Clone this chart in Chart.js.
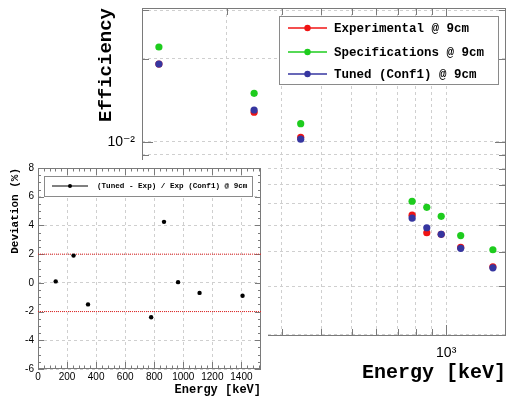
<!DOCTYPE html>
<html>
<head>
<meta charset="utf-8">
<script src="https://cdn.jsdelivr.net/npm/chart.js@4.4.1/dist/chart.umd.min.js"></script>
<style>
  html, body { margin: 0; padding: 0; background: #fff; }
  #wrap { position: relative; width: 510px; height: 398px; overflow: hidden; background: #fff; }
  #main { position: absolute; left: 0; top: 0; }
  #insetPad { position: absolute; left: 0; top: 160px; width: 268px; height: 238px; background: #fff; }
  #inset { position: absolute; left: 0; top: 0; }
</style>
</head>
<body>
<div id="wrap">
  <canvas id="main" width="510" height="398"></canvas>
  <div id="insetPad"><canvas id="inset" width="268" height="238"></canvas></div>
</div>
<script>
// Eu-152 gamma lines (keV)
const energies = [121.8, 244.7, 344.3, 778.9, 867.4, 964.1, 1112.1, 1408.0];

// Full-energy peak efficiencies at 9 cm
const effExperimental   = [0.01915, 0.01282, 0.01040, 0.00543, 0.00469, 0.00463, 0.00415, 0.00353];
const effSpecifications = [0.02209, 0.01501, 0.01165, 0.00610, 0.00580, 0.00538, 0.00458, 0.00407];
const effTuned          = [0.01917, 0.01306, 0.01024, 0.00530, 0.00489, 0.00463, 0.00412, 0.00350];

// (Tuned - Exp) / Exp in percent
const deviationPct = [0.1, 1.9, -1.5, -2.4, 4.25, 0.05, -0.7, -0.9];

const seriesLabels = ['Experimental @ 9cm', 'Specifications @ 9cm', 'Tuned (Conf1) @ 9cm'];
const deviationLabel = '(Tuned - Exp) / Exp (Conf1) @ 9cm';
const toleranceBand = [-2, 2];

// Axis tick values
const energyGrid = [200, 300, 400, 500, 600, 700, 800, 900, 1000];
const efficiencyGrid = [0.002, 0.003, 0.004, 0.005, 0.006, 0.007, 0.008, 0.009, 0.01, 0.02, 0.03];
const energyMajor = [1000];
const efficiencyMajor = [0.01];
const insetEnergyTicks = [0, 200, 400, 600, 800, 1000, 1200, 1400];
const insetDeviationTicks = [-6, -4, -2, 0, 2, 4, 6, 8];

const MONO = '"Liberation Mono", "DejaVu Sans Mono", monospace';
const SANS = '"Liberation Sans", Arial, "DejaVu Sans", sans-serif';
const FRAME = '#7a7a7a';
const GRID = '#cfcfcf';
const seriesColors = ['#f01414', '#1ecc1e', '#3636a0'];

const supDigits = { '-': '\u207B', '0': '\u2070', '1': '\u00B9', '2': '\u00B2', '3': '\u00B3', '4': '\u2074', '5': '\u2075', '6': '\u2076', '7': '\u2077', '8': '\u2078', '9': '\u2079' };
function powerLabel(v) {
  const e = Math.round(Math.log10(v));
  return '10' + String(e).split('').map(c => supDigits[c]).join('');
}

// Fixed axis thickness; edge labels must not shrink the plot frame
function fixSize(size) {
  return s => {
    if (s.isHorizontal()) s.height = size; else s.width = size;
    s.paddingTop = 0; s.paddingBottom = 0; s.paddingLeft = 0; s.paddingRight = 0;
  };
}

// Inward tick marks on all four sides plus the frame
function frameTicksPlugin(spec) {
  return {
    id: 'frameTicks',
    beforeDatasetsDraw(chart) {
      const { ctx, chartArea: a, scales } = chart;
      ctx.save();
      ctx.strokeStyle = FRAME;
      ctx.lineWidth = 1;
      ctx.beginPath();
      spec.x.forEach(t => {
        const px = Math.round(scales.x.getPixelForValue(t.v)) + 0.5;
        ctx.moveTo(px, a.bottom); ctx.lineTo(px, a.bottom - t.len);
        ctx.moveTo(px, a.top); ctx.lineTo(px, a.top + t.len);
      });
      spec.y.forEach(t => {
        const py = Math.round(scales.y.getPixelForValue(t.v)) + 0.5;
        ctx.moveTo(a.left, py); ctx.lineTo(a.left + t.len, py);
        ctx.moveTo(a.right, py); ctx.lineTo(a.right - t.len, py);
      });
      ctx.stroke();
      ctx.strokeRect(Math.round(a.left) + 0.5, Math.round(a.top) + 0.5,
                     Math.round(a.right - a.left) - 1, Math.round(a.bottom - a.top) - 1);
      ctx.restore();
    }
  };
}

// Boxed legend with line + marker samples
function boxLegendPlugin(box) {
  return {
    id: 'boxLegend',
    afterDraw(chart) {
      const ctx = chart.ctx;
      ctx.save();
      ctx.fillStyle = '#fff';
      ctx.fillRect(box.x, box.y, box.w, box.h);
      ctx.strokeStyle = '#8a8a8a';
      ctx.lineWidth = 1;
      ctx.strokeRect(box.x + 0.5, box.y + 0.5, box.w, box.h);
      ctx.font = box.font;
      ctx.textBaseline = 'middle';
      ctx.textAlign = 'left';
      box.items.forEach((idx, row) => {
        const ds = chart.data.datasets[idx];
        const y = box.rows[row];
        ctx.strokeStyle = ds.backgroundColor;
        ctx.lineWidth = box.lineWidth;
        ctx.beginPath();
        ctx.moveTo(box.lineX0, y); ctx.lineTo(box.lineX1, y);
        ctx.stroke();
        ctx.fillStyle = ds.backgroundColor;
        ctx.beginPath();
        ctx.arc((box.lineX0 + box.lineX1) / 2, y, box.dot, 0, Math.PI * 2);
        ctx.fill();
        ctx.fillStyle = '#000';
        ctx.fillText(ds.label, box.textX, y + 0.5);
      });
      ctx.restore();
    }
  };
}

// ---------- Efficiency vs energy (log-log) ----------
const effSeries = [effExperimental, effSpecifications, effTuned];
const drawOrder = [3, 2, 1];

new Chart(document.getElementById('main'), {
  type: 'scatter',
  data: {
    datasets: effSeries.map((vals, i) => ({
      label: seriesLabels[i],
      data: energies.map((e, k) => ({ x: e, y: vals[k] })),
      backgroundColor: seriesColors[i],
      borderColor: seriesColors[i],
      borderWidth: 0,
      pointRadius: 3.6,
      order: drawOrder[i]
    }))
  },
  options: {
    responsive: false,
    animation: false,
    devicePixelRatio: 1,
    layout: { padding: { left: 90, top: 8, right: 3, bottom: 0 } },
    plugins: { legend: { display: false }, tooltip: { enabled: false } },
    scales: {
      x: {
        type: 'logarithmic',
        min: 107.6,
        max: 1550,
        afterBuildTicks: s => { s.ticks = energyGrid.map(v => ({ value: v })); },
        afterFit: fixSize(62),
        ticks: {
          autoSkip: false, maxRotation: 0, padding: 9,
          color: '#000', font: { family: SANS, size: 14 },
          callback: v => energyMajor.includes(v) ? powerLabel(v) : ''
        },
        grid: { color: GRID, drawTicks: false },
        border: { display: false, dash: [3, 3] },
        title: {
          display: true, text: 'Energy [keV]', align: 'end', color: '#000',
          font: { family: MONO, size: 20, weight: 'bold' },
          padding: { top: 0, bottom: 13 }
        }
      },
      y: {
        type: 'logarithmic',
        min: 0.001982,
        max: 0.03058,
        afterBuildTicks: s => { s.ticks = efficiencyGrid.map(v => ({ value: v })); },
        afterFit: fixSize(52),
        ticks: {
          autoSkip: false, padding: 7,
          color: '#000', font: { family: SANS, size: 14 },
          callback: v => efficiencyMajor.includes(v) ? powerLabel(v) : ''
        },
        grid: { color: GRID, drawTicks: false },
        border: { display: false, dash: [3, 3] },
        title: {
          display: true, text: 'Efficiency', align: 'end', color: '#000',
          font: { family: MONO, size: 19, weight: 'bold' },
          padding: { top: 5, bottom: 0 }
        }
      }
    }
  },
  plugins: [
    frameTicksPlugin({
      x: energyGrid.map(v => ({ v, len: energyMajor.includes(v) ? 11 : 7 })),
      y: efficiencyGrid.map(v => ({ v, len: efficiencyMajor.includes(v) ? 11 : 7 }))
    }),
    boxLegendPlugin({
      x: 279, y: 16, w: 219, h: 68,
      rows: [28, 52, 74], items: [0, 1, 2],
      lineX0: 288, lineX1: 327, textX: 334, dot: 3.2, lineWidth: 1.5,
      font: 'bold 12.5px ' + MONO
    })
  ]
});

// ---------- Deviation inset ----------
const insetXMax = 1535;
const minorStep = (ticks, n) => {
  const out = [];
  for (let i = 0; i < ticks.length - 1; i++) {
    const d = (ticks[i + 1] - ticks[i]) / n;
    for (let k = 1; k < n; k++) out.push(ticks[i] + k * d);
  }
  return out;
};
const insetXMinor = minorStep(insetEnergyTicks.concat([1600]), 5).filter(v => v < insetXMax);
const insetYMinor = minorStep(insetDeviationTicks, 4);

new Chart(document.getElementById('inset'), {
  type: 'scatter',
  data: {
    datasets: [
      {
        label: deviationLabel,
        data: energies.map((e, k) => ({ x: e, y: deviationPct[k] })),
        backgroundColor: '#000',
        borderColor: '#000',
        borderWidth: 0,
        pointRadius: 2.2
      },
      ...toleranceBand.map(v => ({
        type: 'line',
        label: 'band ' + v,
        data: [{ x: 0, y: v }, { x: insetXMax, y: v }],
        borderColor: '#e52020',
        borderWidth: 1,
        borderDash: [1, 1],
        pointRadius: 0,
        fill: false
      }))
    ]
  },
  options: {
    responsive: false,
    animation: false,
    devicePixelRatio: 1,
    layout: { padding: { left: 4, top: 8, right: 7, bottom: 0 } },
    plugins: { legend: { display: false }, tooltip: { enabled: false } },
    scales: {
      x: {
        type: 'linear', min: 0, max: insetXMax,
        afterBuildTicks: s => { s.ticks = insetEnergyTicks.map(v => ({ value: v })); },
        afterFit: fixSize(29),
        ticks: {
          autoSkip: false, maxRotation: 0, padding: 2, color: '#000',
          font: { family: SANS, size: 10 }, callback: v => String(v)
        },
        grid: { color: GRID, drawTicks: false },
        border: { display: false, dash: [3, 3] },
        title: {
          display: true, text: 'Energy [keV]', align: 'end', color: '#000',
          font: { family: MONO, size: 12, weight: 'bold' },
          padding: { top: 0, bottom: 1 }
        }
      },
      y: {
        type: 'linear', min: -6, max: 8,
        afterBuildTicks: s => { s.ticks = insetDeviationTicks.map(v => ({ value: v })); },
        afterFit: fixSize(34),
        ticks: {
          autoSkip: false, padding: 4, color: '#000',
          font: { family: SANS, size: 10 }, callback: v => String(v)
        },
        grid: { color: GRID, drawTicks: false },
        border: { display: false, dash: [3, 3] },
        title: {
          display: true, text: 'Deviation (%)', align: 'end', color: '#000',
          font: { family: MONO, size: 11, weight: 'bold' },
          padding: { top: 5, bottom: 0 }
        }
      }
    }
  },
  plugins: [
    frameTicksPlugin({
      x: insetEnergyTicks.map(v => ({ v, len: 7 })).concat(insetXMinor.map(v => ({ v, len: 3.5 }))),
      y: insetDeviationTicks.map(v => ({ v, len: 6 })).concat(insetYMinor.map(v => ({ v, len: 3 })))
    }),
    boxLegendPlugin({
      x: 44, y: 16, w: 208, h: 20,
      rows: [26], items: [0],
      lineX0: 52, lineX1: 88, textX: 97, dot: 2, lineWidth: 1,
      font: 'bold 7.6px ' + MONO
    })
  ]
});
</script>
</body>
</html>
